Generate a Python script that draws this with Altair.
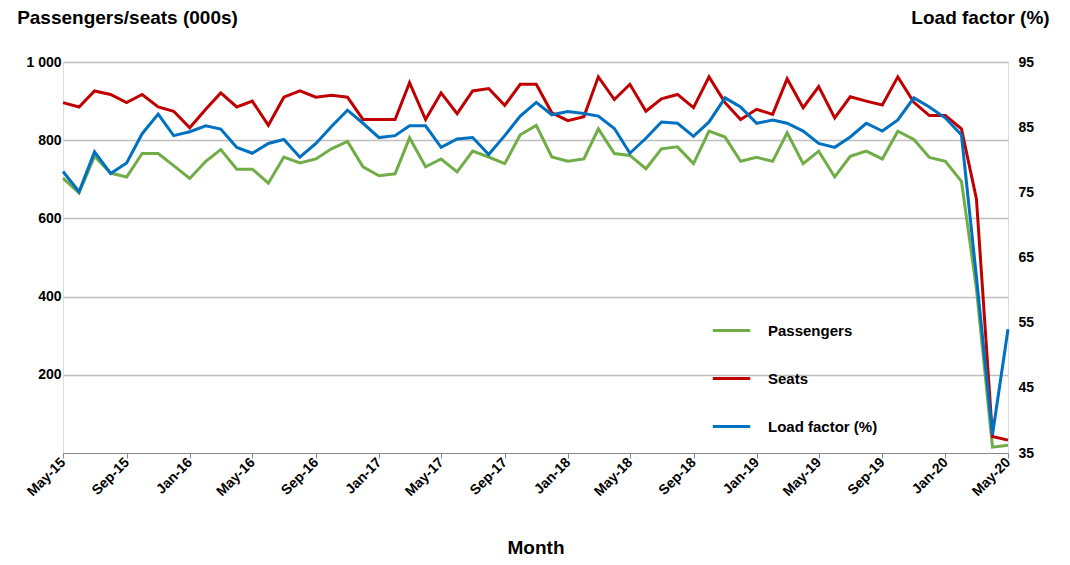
import altair as alt
import pandas as pd

months = pd.date_range("2015-05-01", "2020-05-01", freq="MS")

passengers = [703, 665, 759, 716, 706, 766, 766, 735, 702, 746, 776, 726, 726, 690, 757, 742,
              752, 778, 797, 732, 709, 714, 806, 732, 752, 719, 772, 757, 740, 814, 838,
              757, 746, 752, 829, 766, 761, 727, 778, 783, 740, 823, 808, 746, 756, 746,
              819, 740, 772, 706, 759, 772, 752, 823, 802, 756, 746, 695,
              420, 15, 20]
seats = [896, 885, 926, 917, 896, 917, 885, 874, 832, 879, 921, 885, 900, 838, 910, 926,
         910, 915, 910, 853, 853, 853, 947, 853, 921, 868, 926, 932, 889, 943, 943,
         870, 850, 860, 962, 904, 943, 874, 906, 917, 883, 962, 896, 853, 879, 866,
         957, 883, 937, 857, 911, 900, 890, 962, 897, 863, 863, 829,
         650, 42, 33]
load_factor = [78.2, 75.1, 81.2, 77.9, 79.5, 84.0, 87.0, 83.7, 84.3, 85.2, 84.7, 81.9, 81.0,
               82.5, 83.1, 80.4, 82.5, 85.1, 87.6, 85.6, 83.4, 83.7, 85.2, 85.2, 81.9, 83.2,
               83.4, 80.8, 83.7, 86.7, 88.8,
               86.9, 87.4, 87.1, 86.7, 84.8, 81.0, 83.3, 85.8, 85.6, 83.6, 85.8, 89.5, 88.1,
               85.6, 86.1, 85.6, 84.4, 82.5, 81.9, 83.5, 85.6, 84.4, 86.1, 89.5, 88.1, 86.4,
               83.8, 62.0, 37.8, 54.0]

series = ["Passengers", "Seats", "Load factor (%)"]
colors = ["#70AD47", "#C00000", "#0070C0"]

df_left = pd.concat([
    pd.DataFrame({"month": months, "value": passengers, "series": "Passengers"}),
    pd.DataFrame({"month": months, "value": seats, "series": "Seats"}),
])
df_lf = pd.DataFrame({"month": months, "value": load_factor, "series": "Load factor (%)"})

font = "Liberation Sans"
tick_dates = [d.isoformat() for d in months[::4]]

x = alt.X("month:T", title="Month",
          scale=alt.Scale(domain=[months[0].isoformat(), months[-1].isoformat()]),
          axis=alt.Axis(values=tick_dates, format="%b-%y", labelAngle=-45, labelAlign="right",
                        labelBaseline="middle", labelFontSize=14, labelFontWeight="bold",
                        labelColor="black", grid=False, domainColor="#888", tickColor="#888",
                        tickSize=5, labelPadding=2, labelOverlap=False, labelBound=False,
                        titleFontSize=19, titleFontWeight="bold", titlePadding=40))

color = alt.Color("series:N", title=None,
                  scale=alt.Scale(domain=series, range=colors),
                  legend=alt.Legend(orient="none", legendX=648, legendY=248,
                                    symbolType="stroke", symbolStrokeWidth=3, symbolSize=1400,
                                    labelFontSize=15, labelFontWeight="bold", labelColor="black",
                                    labelFont=font, rowPadding=19, labelOffset=16))

left = alt.Chart(df_left).mark_line(strokeWidth=3).encode(
    x=x,
    y=alt.Y("value:Q", title="Passengers/seats (000s)",
            scale=alt.Scale(domain=[0, 1000]),
            axis=alt.Axis(values=[200, 400, 600, 800, 1000], format=",d", labelExpr="replace(datum.label, ',', ' ')",
                          labelFontSize=14, labelFontWeight="bold", labelColor="black",
                          ticks=False, domain=False, gridColor="#bfbfbf", gridWidth=1.5,
                          titleAngle=0, titleAlign="center", titleX=64, titleY=-35,
                          titleFontSize=19, titleFontWeight="bold")),
    color=color,
    detail="series:N",
)

right = alt.Chart(df_lf).mark_line(strokeWidth=3).encode(
    x=x,
    y=alt.Y("value:Q", title="Load factor (%)",
            scale=alt.Scale(domain=[35, 95]),
            axis=alt.Axis(orient="right", values=[35, 45, 55, 65, 75, 85, 95], grid=False,
                          labelFontSize=14, labelFontWeight="bold", labelColor="black",
                          ticks=False, domain=False, labelPadding=10,
                          titleAngle=0, titleAlign="center", titleX=-28, titleY=-35,
                          titleFontSize=19, titleFontWeight="bold")),
    color=color,
)

chart = alt.layer(left, right).resolve_scale(y="independent").properties(
    width=945, height=391,
    autosize=alt.AutoSizeParams(type="none"),
    padding={"left": 55, "top": 54, "right": 54, "bottom": 104},
).configure_view(stroke=None).configure(font=font)

chart.save("out.html", embed_options={"renderer": "svg", "actions": False})
